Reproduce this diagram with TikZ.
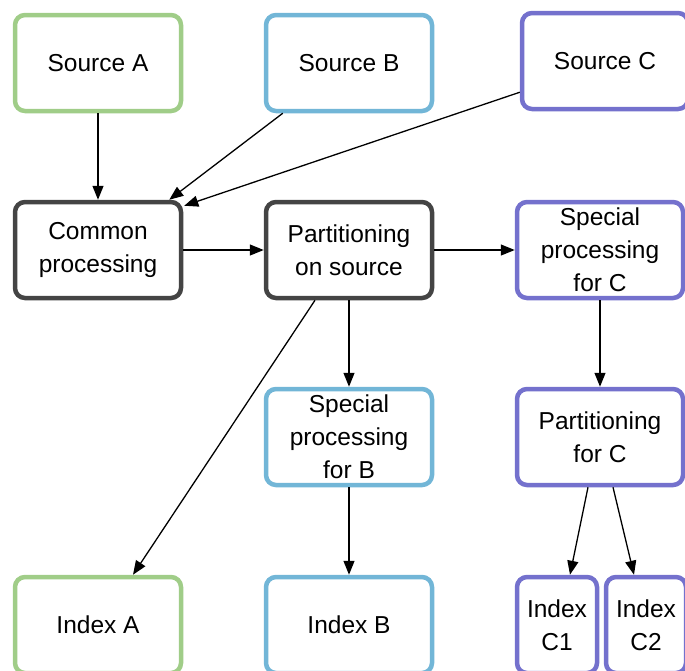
\documentclass[tikz,border=0pt]{standalone}
\usepackage{fontspec}
\setmainfont{Liberation Sans}
\usetikzlibrary{arrows.meta,calc}
\definecolor{srcA}{RGB}{160,205,136}
\definecolor{srcB}{RGB}{114,182,215}
\definecolor{srcC}{RGB}{116,113,205}
\definecolor{core}{RGB}{68,68,68}
\tikzset{
  box/.style={draw, line width=4.5pt, rounded corners=10pt, fill=white,
    minimum width=166pt, minimum height=96pt, inner sep=0pt,
    align=center, font=\fontsize{24.5}{33}\selectfont},
  narrow/.style={box, minimum width=80pt},
  flow/.style={line width=1.3pt, -{Triangle[length=14pt,width=11pt]}},
}
\begin{document}
\begin{tikzpicture}[x=1pt,y=-1pt]
\useasboundingbox (0,0) rectangle (685,670);
% sources
\node[box, draw=srcA] (sa) at (98,63) {Source A};
\node[box, draw=srcB] (sb) at (349,63) {Source B};
\node[box, draw=srcC] (sc) at (605,61) {Source C};
% processing stages
\node[box, draw=core] (cp) at (98,250) {Common\\processing};
\node[box, draw=core] (ps) at (349,250) {Partitioning\\on source};
\node[box, draw=srcC] (spc) at (600,250) {Special\\processing\\for C};
\node[box, draw=srcB] (spb) at (349,437) {Special\\processing\\for B};
\node[box, draw=srcC] (pc) at (600,437) {Partitioning\\for C};
% indexes
\node[box, draw=srcA] (ia) at (98,625) {Index A};
\node[box, draw=srcB] (ib) at (349,625) {Index B};
\node[narrow, draw=srcC] (c1) at (557,625) {Index\\C1};
\node[narrow, draw=srcC] (c2) at (646,625) {Index\\C2};
% connectors
\draw[flow] (sa) -- (cp);
\draw[flow] ($(sb.south west)+(19,0)$) -- ($(cp.north east)+(-14,0)$);
\draw[flow] ($(sc.south west)+(0,-19)$) -- ($(cp.north east)+(1,6)$);
\draw[flow] (cp) -- (ps);
\draw[flow] (ps) -- (spc);
\draw[flow] (ps) -- (spb);
\draw[flow] ($(ps.south)+(-34,0)$) -- ($(ia.north)+(35,0)$);
\draw[flow] (spc) -- (pc);
\draw[flow] (spb) -- (ib);
\draw[flow] ($(pc.south)+(-12,0)$) -- ($(c1.north)+(13,0)$);
\draw[flow] ($(pc.south)+(13,0)$) -- ($(c2.north)+(-12,0)$);
\end{tikzpicture}
\end{document}
